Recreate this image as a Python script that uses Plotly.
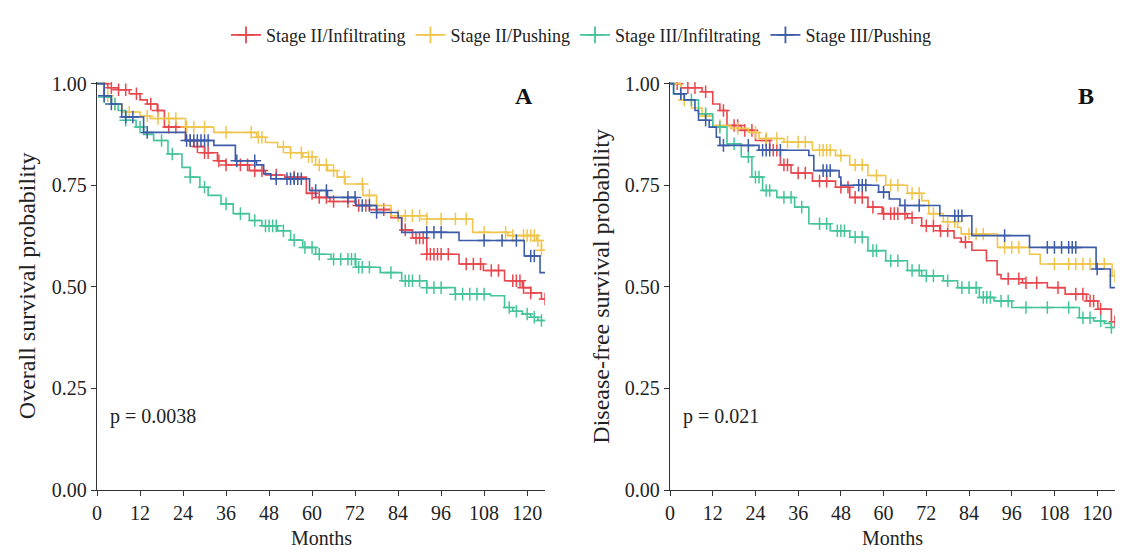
import plotly.graph_objects as go
from plotly.subplots import make_subplots
import numpy as np

# ---------------- data ----------------
group_names = ["Stage II/Infiltrating", "Stage II/Pushing", "Stage III/Infiltrating", "Stage III/Pushing"]
group_colors = ["#E8474E", "#EFC54E", "#45C49B", "#3C5BA8"]
end_time = 125

# Panel A: overall survival -- step times and survival after each step
os_red_t = [0, 3, 6, 9, 12, 14, 16.8, 18.8, 24.7, 27, 30, 33.6, 36, 42.5, 47, 52.4, 58.4, 61, 65, 72.2, 76, 82, 85, 88, 92, 101, 107.8, 113.7, 118.7, 121, 124]
os_red_s = [1.0, 0.99, 0.985, 0.975, 0.96, 0.95, 0.934, 0.893, 0.86, 0.845, 0.83, 0.81, 0.80, 0.786, 0.775, 0.77, 0.73, 0.72, 0.71, 0.70, 0.69, 0.67, 0.64, 0.62, 0.58, 0.556, 0.54, 0.515, 0.498, 0.485, 0.47]
os_yel_t = [0, 2, 4, 7, 12, 14.8, 24.7, 32.6, 44.5, 47, 50.4, 54, 57.4, 61, 64.3, 67, 69.2, 74.2, 78, 82, 92, 104.8, 114.7, 122.6, 124]
os_yel_s = [1.0, 0.97, 0.95, 0.93, 0.92, 0.914, 0.893, 0.88, 0.868, 0.855, 0.844, 0.83, 0.82, 0.80, 0.786, 0.77, 0.753, 0.725, 0.70, 0.675, 0.667, 0.634, 0.626, 0.614, 0.59]
os_grn_t = [0, 2, 4, 5.9, 8, 10.9, 13, 15.8, 19.8, 23.7, 26, 28.7, 31, 34.6, 38, 42.5, 46, 50.4, 54, 57.4, 61, 65.3, 72.2, 79, 85, 92, 99.9, 109.8, 113.7, 116, 118.7, 121, 123]
os_grn_s = [1.0, 0.967, 0.95, 0.934, 0.91, 0.893, 0.875, 0.86, 0.827, 0.794, 0.77, 0.745, 0.725, 0.704, 0.68, 0.663, 0.65, 0.638, 0.615, 0.597, 0.58, 0.568, 0.548, 0.535, 0.515, 0.498, 0.482, 0.478, 0.449, 0.44, 0.433, 0.425, 0.417]
os_blu_t = [0, 2, 4, 6.9, 13, 24.7, 32.6, 38.6, 44.5, 46.5, 48.5, 59.3, 64.3, 72.2, 78, 84, 85, 101, 119.2, 123.6]
os_blu_s = [1.0, 0.97, 0.95, 0.918, 0.88, 0.86, 0.848, 0.81, 0.80, 0.778, 0.766, 0.737, 0.72, 0.70, 0.683, 0.67, 0.634, 0.614, 0.576, 0.535]

os_red_cens = [2, 4, 6, 8, 11, 15, 17, 20, 22, 26, 28, 30, 31, 34, 36, 40, 42, 44, 46, 50, 55, 60, 62, 64, 66, 70, 73, 75, 80, 86, 89, 90, 91, 92, 93, 94, 95, 96, 98, 103, 105, 107, 110, 112, 116, 117, 118, 119, 121, 125]
os_yel_cens = [3, 5, 9, 14, 17, 20, 22, 25, 27, 30, 36, 43, 45, 46, 52, 54, 57, 59, 60, 62, 64, 66, 69, 74, 76, 78, 84, 86, 88, 90, 92, 96, 100, 103, 108, 114, 116, 119, 120, 121, 122, 123, 124]
os_grn_cens = [2, 5, 8, 12, 18, 21, 26, 30, 36, 40, 44, 47, 48, 49, 50, 52, 55, 58, 60, 62, 66, 68, 70, 71, 72, 73, 74, 76, 82, 86, 87, 88, 90, 92, 94, 96, 100, 102, 104, 106, 108, 115, 117, 120, 122, 124]
os_blu_cens = [2, 4, 8, 10, 14, 25, 26, 27, 28, 29, 30, 31, 39, 44, 50, 53, 54, 55, 56, 57, 61, 64, 70, 72, 74, 76, 78, 92, 94, 96, 108, 113, 117, 121, 122]

# Panel B: disease-free survival
dfs_red_t = [0, 3, 9, 12, 14, 16, 20, 24, 28, 31, 34, 40, 46.5, 50.5, 55.6, 59.6, 66.7, 70.7, 75.8, 79.8, 81.8, 84.8, 88.9, 91.9, 93, 99, 106, 111, 117, 120.2, 124]
dfs_red_s = [1.0, 0.99, 0.98, 0.95, 0.934, 0.897, 0.885, 0.86, 0.836, 0.80, 0.78, 0.76, 0.745, 0.72, 0.696, 0.68, 0.67, 0.65, 0.638, 0.62, 0.61, 0.59, 0.564, 0.53, 0.52, 0.51, 0.498, 0.482, 0.465, 0.445, 0.414]
dfs_yel_t = [0, 3, 6, 9, 12, 17, 22, 25, 32, 40, 46.5, 50.5, 55.6, 60.6, 66.7, 70.7, 72.7, 76.8, 80.8, 81.8, 92, 101, 104, 124.2]
dfs_yel_s = [1.0, 0.96, 0.94, 0.92, 0.897, 0.89, 0.88, 0.865, 0.856, 0.836, 0.823, 0.80, 0.774, 0.75, 0.73, 0.712, 0.68, 0.66, 0.646, 0.63, 0.597, 0.58, 0.556, 0.527]
dfs_grn_t = [0, 1, 4, 8, 12, 16, 20, 23, 26, 30, 35, 39, 45, 50.5, 55.6, 60.6, 66.7, 70.7, 76.8, 80.8, 86.9, 91, 96, 115, 119, 122, 124]
dfs_grn_s = [1.0, 0.975, 0.96, 0.926, 0.893, 0.852, 0.82, 0.77, 0.737, 0.72, 0.696, 0.655, 0.638, 0.622, 0.589, 0.564, 0.54, 0.527, 0.515, 0.498, 0.474, 0.465, 0.449, 0.424, 0.416, 0.41, 0.40]
dfs_blu_t = [0, 1, 4, 7, 8, 11, 13, 14, 25, 39, 40.4, 47.5, 48, 58.6, 61.6, 64.6, 75.8, 84.8, 101, 119.7, 123.7]
dfs_blu_s = [1.0, 0.975, 0.96, 0.934, 0.91, 0.893, 0.868, 0.848, 0.836, 0.823, 0.786, 0.77, 0.75, 0.733, 0.716, 0.70, 0.675, 0.626, 0.597, 0.544, 0.498]

dfs_red_cens = [2, 5, 7, 10, 15, 18, 19, 21, 23, 27, 29, 30, 32, 33, 36, 38, 42, 44, 48, 50, 52, 54, 57, 60, 62, 63, 64, 66, 68, 72, 74, 76, 78, 83, 95, 98, 100, 103, 109, 114, 116, 118, 119, 121, 125]
dfs_yel_cens = [4, 10, 14, 19, 24, 27, 30, 33, 36, 38, 42, 43, 44, 45, 48, 52, 54, 58, 62, 64, 68, 70, 74, 78, 80, 84, 86, 88, 94, 96, 98, 108, 112, 114, 116, 118, 122, 125]
dfs_grn_cens = [3, 6, 10, 14, 18, 22, 24, 25, 27, 28, 32, 34, 37, 42, 44, 47, 48, 49, 52, 54, 57, 58, 62, 64, 68, 70, 72, 74, 78, 82, 84, 86, 88, 89, 90, 93, 95, 100, 106, 112, 116, 118, 121, 124]
dfs_blu_cens = [3, 10, 15, 22, 26, 27, 28, 31, 43, 44, 45, 53, 54, 55, 60, 66, 70, 80, 81, 82, 94, 106, 108, 110, 112, 113, 114, 120]

tick_vals_x = [0, 12, 24, 36, 48, 60, 72, 84, 96, 108, 120]
tick_vals_y = [0, 0.25, 0.5, 0.75, 1.0]
tick_text_y = ["0.00", "0.25", "0.50", "0.75", "1.00"]
x_title = "Months"

panels = [
    dict(steps=[(os_red_t, os_red_s, os_red_cens), (os_yel_t, os_yel_s, os_yel_cens),
                (os_grn_t, os_grn_s, os_grn_cens), (os_blu_t, os_blu_s, os_blu_cens)],
         ytitle="Overall survival probability", letter="A", pval="p = 0.0038"),
    dict(steps=[(dfs_red_t, dfs_red_s, dfs_red_cens), (dfs_yel_t, dfs_yel_s, dfs_yel_cens),
                (dfs_grn_t, dfs_grn_s, dfs_grn_cens), (dfs_blu_t, dfs_blu_s, dfs_blu_cens)],
         ytitle="Disease-free survival probability", letter="B", pval="p = 0.021"),
]

FONT = "Liberation Serif, Times New Roman, serif"
TXT = "#222222"

fig = make_subplots(rows=1, cols=2)


def surv_at(ts, ss, t):
    idx = np.searchsorted(np.array(ts), t, side="right") - 1
    return ss[max(idx, 0)]


for pi, panel in enumerate(panels):
    col = pi + 1
    for gi, (ts, ss, cens) in enumerate(panel["steps"]):
        color = group_colors[gi]
        xs = list(ts) + [end_time]
        ys = list(ss) + [ss[-1]]
        fig.add_trace(go.Scatter(x=xs, y=ys, mode="lines", line=dict(color=color, width=1.6, shape="hv"),
                                 showlegend=False, hoverinfo="skip"), row=1, col=col)
        cy = [surv_at(ts, ss, c) for c in cens]
        fig.add_trace(go.Scatter(x=cens, y=cy, mode="markers",
                                 marker=dict(symbol="cross-thin", size=9, line=dict(color=color, width=1.5)),
                                 showlegend=False, hoverinfo="skip"), row=1, col=col)
        if pi == 0:
            fig.add_trace(go.Scatter(x=[None], y=[None], mode="lines+markers", name=group_names[gi],
                                     line=dict(color=color, width=1.8),
                                     marker=dict(symbol="cross-thin", size=12, line=dict(color=color, width=1.8))),
                          row=1, col=col)

axis_common = dict(showgrid=False, zeroline=False, showline=True, linecolor="#333333", linewidth=1.4,
                   ticks="outside", ticklen=5, tickwidth=1.3, tickcolor="#333333", automargin=False,
                   tickfont=dict(family=FONT, size=20, color=TXT))

fig.update_xaxes(**axis_common, range=[0, 125], tickvals=tick_vals_x)
fig.update_xaxes(domain=[0.0797, 0.4808], row=1, col=1)
fig.update_xaxes(domain=[0.5927, 0.9910], row=1, col=2)
fig.update_yaxes(**axis_common, range=[0, 1.004], tickvals=tick_vals_y, ticktext=tick_text_y)

for pi, panel in enumerate(panels):
    xref = "x" if pi == 0 else "x2"
    yref = "y" if pi == 0 else "y2"
    # axis titles
    fig.add_annotation(x=0.5, y=-0.118, xref=xref + " domain", yref=yref + " domain", text=x_title,
                       showarrow=False, yanchor="middle", font=dict(family=FONT, size=20, color=TXT))
    fig.add_annotation(x=-0.156, y=0.5, xref=xref + " domain", yref=yref + " domain", text=panel["ytitle"],
                       textangle=-90, showarrow=False, xanchor="center", yanchor="middle",
                       font=dict(family=FONT, size=24, color=TXT))
    fig.add_annotation(x=119 if pi == 0 else 117, y=0.97, xref=xref, yref=yref, text="<b>" + panel["letter"] + "</b>",
                       showarrow=False, font=dict(family=FONT, size=24, color="#111111"))
    fig.add_annotation(x=3.0, y=0.18, xref=xref, yref=yref, text=panel["pval"], xanchor="left",
                       showarrow=False, font=dict(family=FONT, size=20, color=TXT))

fig.update_layout(
    width=1117, height=544,
    margin=dict(l=0, r=0, t=74, b=62),
    paper_bgcolor="white", plot_bgcolor="white",
    legend=dict(orientation="h", x=0.513, xanchor="center", y=1.115, yanchor="middle",
                font=dict(family=FONT, size=18, color=TXT), itemwidth=30, tracegroupgap=0),
    font=dict(family=FONT),
)

fig.write_html("out.html")
